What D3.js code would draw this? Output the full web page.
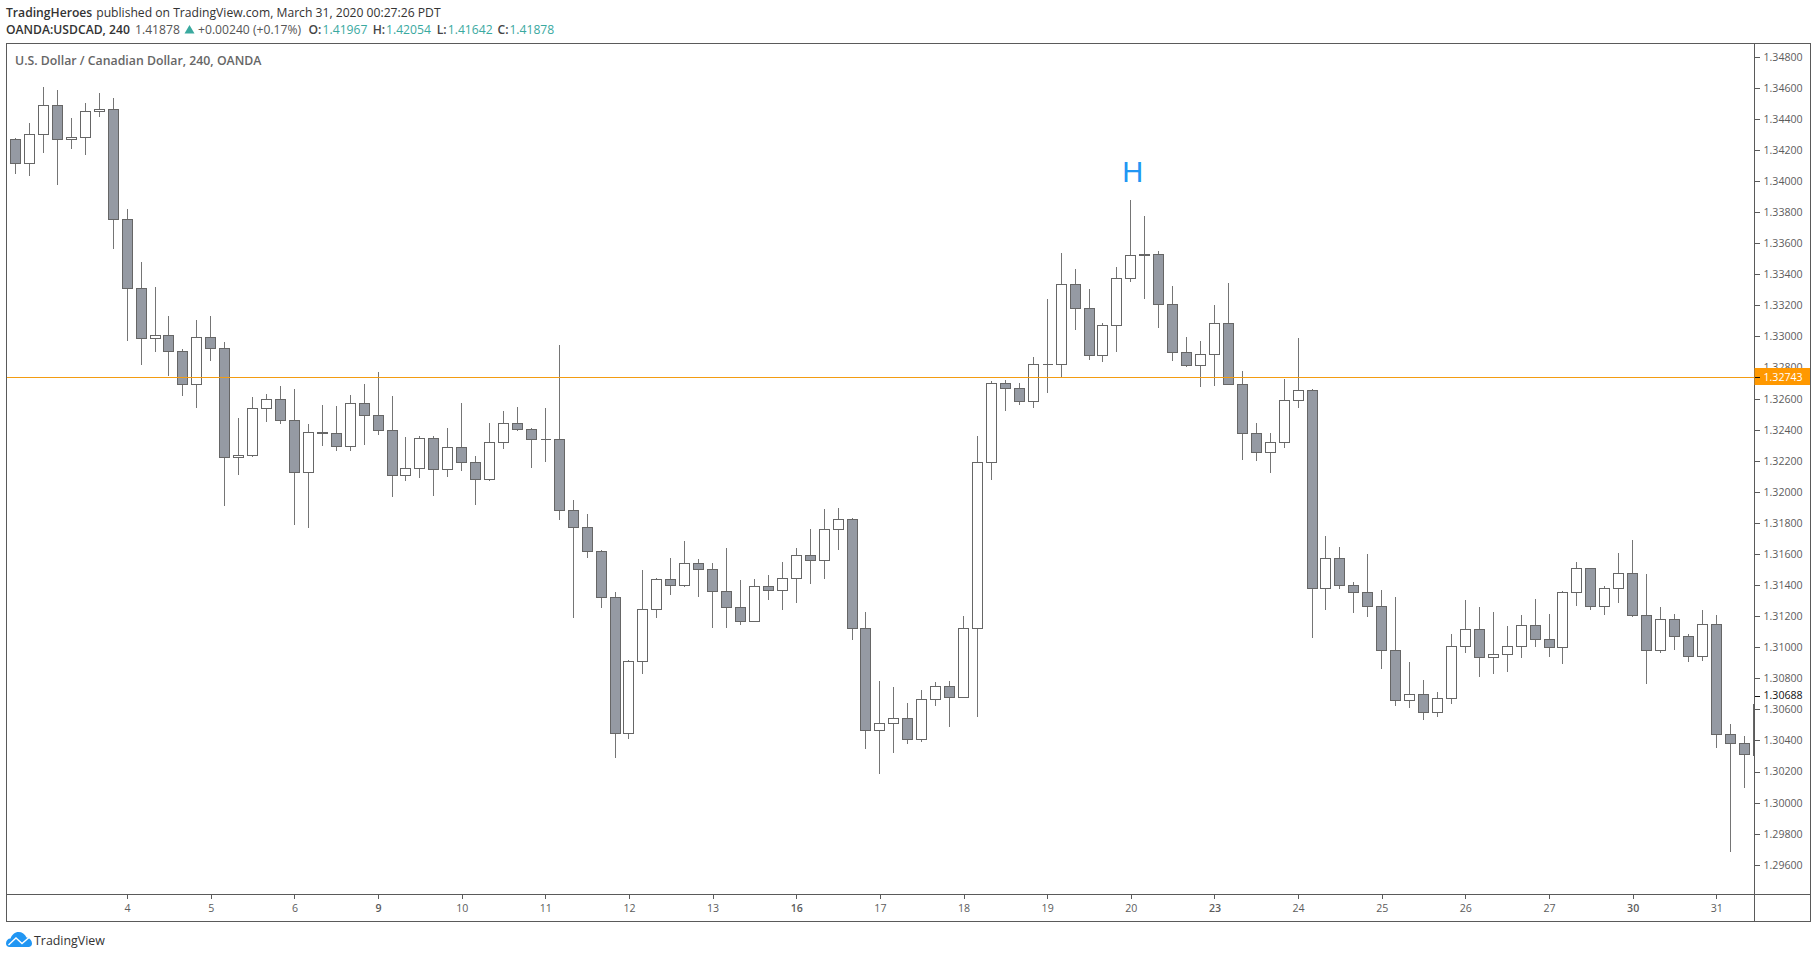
<!DOCTYPE html>
<html><head><meta charset="utf-8">
<script src="https://d3js.org/d3.v7.min.js"></script>
<style>
html,body{margin:0;padding:0;background:#fff;overflow:hidden}
svg{display:block}
text{font-family:"Open Sans",sans-serif}
</style></head><body>
<svg id="c" width="1817" height="958"></svg>
<script>
const opens=[1.34273,1.34118,1.34305,1.34491,1.34273,1.34285,1.34453,1.34466,1.33758,1.33314,
1.32992,1.33011,1.32908,1.32696,1.32998,1.32928,1.32226,1.32239,1.32542,1.32600,
1.32464,1.32130,1.32387,1.32383,1.32297,1.32574,1.32497,1.32400,1.32111,1.32156,
1.32349,1.32149,1.32291,1.32194,1.32085,1.32323,1.32445,1.32407,1.32342,1.32342,
1.31885,1.31776,1.31621,1.31325,1.30450,1.30914,1.31248,1.31441,1.31403,1.31544,
1.31506,1.31364,1.31261,1.31171,1.31396,1.31370,1.31448,1.31596,1.31563,1.31763,
1.31827,1.31126,1.30469,1.30515,1.30547,1.30412,1.30669,1.30753,1.30682,1.31126,
1.32194,1.32702,1.32670,1.32587,1.32825,1.32825,1.33340,1.33185,1.32883,1.33076,
1.33378,1.33530,1.33533,1.33211,1.32902,1.32818,1.32889,1.33089,1.32696,1.32381,
1.32258,1.32323,1.32593,1.32657,1.31383,1.31576,1.31403,1.31358,1.31267,1.30984,
1.30663,1.30701,1.30585,1.30675,1.31010,1.31119,1.30939,1.30959,1.31010,1.31145,
1.31055,1.31004,1.31358,1.31512,1.31267,1.31383,1.31480,1.31210,1.30984,1.31184,
1.31074,1.30947,1.31152,1.30444,1.30386,1.30639];
const closes=[1.34118,1.34305,1.34491,1.34273,1.34285,1.34453,1.34466,1.33758,1.33314,1.32992,
1.33011,1.32906,1.32696,1.32998,1.32928,1.32226,1.32239,1.32542,1.32600,1.32464,
1.32130,1.32387,1.32383,1.32297,1.32574,1.32497,1.32400,1.32111,1.32156,1.32349,
1.32149,1.32291,1.32194,1.32085,1.32323,1.32445,1.32407,1.32342,1.32340,1.31885,
1.31776,1.31621,1.31325,1.30450,1.30914,1.31248,1.31441,1.31403,1.31544,1.31506,
1.31364,1.31261,1.31171,1.31396,1.31370,1.31448,1.31596,1.31563,1.31763,1.31827,
1.31126,1.30469,1.30515,1.30547,1.30412,1.30669,1.30753,1.30682,1.31126,1.32194,
1.32702,1.32670,1.32587,1.32825,1.32826,1.33340,1.33185,1.32883,1.33076,1.33378,
1.33526,1.33525,1.33211,1.32902,1.32818,1.32889,1.33089,1.32696,1.32381,1.32258,
1.32323,1.32593,1.32657,1.31383,1.31576,1.31403,1.31358,1.31267,1.30984,1.30663,
1.30701,1.30585,1.30675,1.31010,1.31119,1.30939,1.30959,1.31010,1.31145,1.31055,
1.31004,1.31358,1.31512,1.31267,1.31383,1.31480,1.31210,1.30984,1.31184,1.31074,
1.30947,1.31152,1.30444,1.30386,1.30315,1.30311];
const highs=[1.34279,1.34377,1.34607,1.34590,1.34410,1.34506,1.34571,1.34538,1.33824,1.33483,
1.33322,1.33131,1.32923,1.33110,1.33131,1.32968,1.32479,1.32614,1.32634,1.32685,
1.32666,1.32441,1.32563,1.32556,1.32627,1.32698,1.32775,1.32621,1.32357,1.32361,
1.32361,1.32415,1.32576,1.32235,1.32447,1.32524,1.32550,1.32415,1.32544,1.32949,
1.31951,1.31861,1.31630,1.31359,1.30922,1.31501,1.31450,1.31578,1.31688,1.31572,
1.31546,1.31643,1.31437,1.31443,1.31469,1.31553,1.31643,1.31765,1.31894,1.31900,
1.31836,1.31231,1.30787,1.30748,1.30645,1.30729,1.30780,1.30787,1.31205,1.32363,
1.32717,1.32724,1.32704,1.32872,1.33245,1.33541,1.33438,1.33309,1.33090,1.33451,
1.33882,1.33779,1.33554,1.33329,1.33000,1.32975,1.33206,1.33348,1.32782,1.32447,
1.32383,1.32730,1.32994,1.32666,1.31720,1.31649,1.31424,1.31604,1.31372,1.31327,
1.30909,1.30793,1.30716,1.31089,1.31308,1.31263,1.31231,1.31141,1.31211,1.31314,
1.31218,1.31366,1.31553,1.31514,1.31398,1.31610,1.31694,1.31475,1.31263,1.31218,
1.31087,1.31244,1.31211,1.30510,1.30433,1.30639];
const lows=[1.34051,1.34038,1.34186,1.33983,1.34212,1.34174,1.34418,1.33569,1.32977,1.32822,
1.32906,1.32751,1.32623,1.32545,1.32848,1.31915,1.32114,1.32230,1.32455,1.32442,
1.31793,1.31773,1.32301,1.32269,1.32269,1.32307,1.32372,1.31973,1.32076,1.32095,
1.31979,1.32101,1.32140,1.31921,1.32076,1.32282,1.32397,1.32159,1.32198,1.31829,
1.31194,1.31580,1.31258,1.30293,1.30415,1.30834,1.31194,1.31342,1.31394,1.31329,
1.31130,1.31130,1.31149,1.31171,1.31310,1.31246,1.31291,1.31413,1.31445,1.31632,
1.31052,1.30351,1.30190,1.30325,1.30383,1.30396,1.30628,1.30493,1.30682,1.30557,
1.32082,1.32526,1.32565,1.32545,1.32642,1.32741,1.33047,1.32854,1.32841,1.32906,
1.33356,1.33247,1.33060,1.32848,1.32809,1.32681,1.32687,1.32696,1.32211,1.32204,
1.32127,1.32288,1.32545,1.31065,1.31246,1.31385,1.31226,1.31201,1.30866,1.30630,
1.30615,1.30540,1.30557,1.30643,1.30969,1.30814,1.30834,1.30847,1.30937,1.31007,
1.30943,1.30898,1.31271,1.31246,1.31213,1.31291,1.31201,1.30769,1.30969,1.30988,
1.30911,1.30917,1.30358,1.29688,1.30100,1.30311];
const dayLabels=["4","5","6","9","10","11","12","13","16","17","18","19","20","23","24","25","26","27","30","31"];
const boldDays=["9","16","23","30"];
const priceTicks=[1.348,1.346,1.344,1.342,1.34,1.338,1.336,1.334,1.332,1.33,1.328,1.326,1.324,1.322,1.32,1.318,1.316,1.314,1.312,1.31,1.308,1.306,1.304,1.302,1.3,1.298,1.296];
const linePrice=1.32743, lastPrice=1.30688;

const L=6.5,R=1810.5,T=43.5,B=921.5,AX=1754.5,AY=894.5;
const INK="#5a5a5a",BODY="#959aa3",EDGE="#666666",WICK="#757575";
const svg=d3.select("#c");
const x=d3.scaleLinear().domain([0,125]).range([15.62,15.62+125*13.94]);
const y=d3.scaleLinear().domain([1.296,1.348]).range([865.3,57.3]);
const sx=v=>Math.floor(x(v))+.5, sy=v=>Math.floor(y(v)+.2)+.5;

svg.append("defs").append("clipPath").attr("id","plot").append("rect")
  .attr("x",L).attr("y",T).attr("width",AX-L).attr("height",AY-T);

const candles=d3.range(opens.length).map(i=>({i,o:opens[i],c:closes[i],h:highs[i],l:lows[i]}));
const gc=svg.append("g").attr("clip-path","url(#plot)");
gc.selectAll("line.w").data(candles).join("line").attr("class","w")
  .attr("x1",d=>sx(d.i)).attr("x2",d=>sx(d.i))
  .attr("y1",d=>sy(d.h)-.5).attr("y2",d=>sy(d.l)+.5)
  .attr("stroke",WICK).attr("stroke-width",1).attr("shape-rendering","crispEdges");
gc.selectAll("path.b").data(candles).join("path").attr("class","b")
  .attr("d",d=>{const p=d3.path(),a=sx(d.i)-5,t=sy(Math.max(d.o,d.c)),b=sy(Math.min(d.o,d.c));
    p.moveTo(a,t);p.lineTo(a+10,t);p.lineTo(a+10,b);p.lineTo(a,b);p.closePath();return p.toString();})
  .attr("fill",d=>d.c>=d.o?"#ffffff":BODY).attr("stroke",EDGE).attr("stroke-width",1.1).attr("shape-rendering","crispEdges");

svg.append("line").attr("x1",L).attr("x2",AX).attr("y1",sy(linePrice)).attr("y2",sy(linePrice))
  .attr("stroke","#f39c12").attr("stroke-width",1).attr("shape-rendering","crispEdges");

// H annotation
svg.append("text").attr("x",x(80)+1.8).attr("y",y(1.33996)).attr("text-anchor","middle")
  .style("font-family","'Liberation Sans'").attr("font-size",29).attr("fill","#2196f3").text("H");

// axes
const fs=10.6;
const ya=svg.append("g").attr("transform",`translate(${AX},0)`)
  .call(d3.axisRight(y).tickValues(priceTicks).tickSize(5).tickPadding(4).tickFormat(d3.format(".5f")).offset(0));
ya.select(".domain").remove();
ya.selectAll("line").attr("stroke",INK).attr("shape-rendering","crispEdges");
ya.selectAll("text").attr("fill","#5c5c5c").attr("font-size",fs).style("font-family","'Open Sans'");

const xIdx=dayLabels.map((_,k)=>8+6*k);
const xa=svg.append("g").attr("transform",`translate(0,${AY})`)
  .call(d3.axisBottom(x).tickValues(xIdx).tickSize(4).tickPadding(6).tickFormat((d,k)=>dayLabels[k]));
xa.select(".domain").remove();
xa.selectAll("line").attr("stroke",INK).attr("shape-rendering","crispEdges");
xa.selectAll("text").attr("fill","#5c5c5c").attr("font-size",fs).style("font-family","'Open Sans'")
  .attr("font-weight",(d,k)=>boldDays.includes(dayLabels[k])?600:400);

// frame
const fr=svg.append("g").attr("stroke",INK).attr("fill","none").attr("shape-rendering","crispEdges");
fr.append("rect").attr("x",L).attr("y",T).attr("width",R-L).attr("height",B-T);
fr.append("line").attr("x1",AX).attr("x2",AX).attr("y1",T).attr("y2",B);
fr.append("line").attr("x1",L).attr("x2",R).attr("y1",AY).attr("y2",AY);

// price labels
const ly=y(linePrice);
svg.append("rect").attr("x",AX).attr("y",Math.round(ly)-9).attr("width",R-AX-.5).attr("height",17).attr("fill","#ff9800");
svg.append("line").attr("x1",AX).attr("x2",AX+5).attr("y1",sy(linePrice)).attr("y2",sy(linePrice)).attr("stroke","#111").attr("shape-rendering","crispEdges");
svg.append("text").attr("x",AX+9).attr("y",ly+.5).attr("dy",".32em").attr("fill","#fff").attr("font-size",fs).text(d3.format(".5f")(linePrice));
svg.append("line").attr("x1",AX).attr("x2",AX+5).attr("y1",sy(lastPrice)).attr("y2",sy(lastPrice)).attr("stroke","#111").attr("shape-rendering","crispEdges");
svg.append("text").attr("x",AX+9).attr("y",y(lastPrice)-.3).attr("dy",".32em").attr("fill","#111").attr("font-size",fs).text(d3.format(".5f")(lastPrice));

// header
const hs=12.15;
const t1=svg.append("text").attr("x",6).attr("y",17).attr("font-size",hs).attr("fill","#333");
t1.append("tspan").attr("font-weight",600).text("TradingHeroes");
t1.append("tspan").attr("dx",4).text("published on TradingView.com, March 31, 2020 00:27:26 PDT");
const TEAL="#3aa99f";
[["OANDA:USDCAD, 240",6,600,"#333"],["1.41878",135,400,"#555"],["+0.00240 (+0.17%)",198,400,"#555"],
 ["O:",308.5,600,"#444"],["1.41967",322.6,400,TEAL],["H:",372.7,600,"#444"],["1.42054",386,400,TEAL],
 ["L:",436.7,600,"#444"],["1.41642",447.8,400,TEAL],["C:",497.5,600,"#444"],["1.41878",509.4,400,TEAL]]
 .forEach(s=>svg.append("text").attr("x",s[1]).attr("y",34).attr("font-size",hs).attr("font-weight",s[2]).attr("fill",s[3]).text(s[0]));
svg.append("path").attr("d","M184.5 33.5L189.5 25L194.5 33.5Z").attr("fill",TEAL);

svg.append("text").attr("x",15).attr("y",65).attr("font-size",12.3).attr("font-weight",600).attr("fill","#666").text("U.S. Dollar / Canadian Dollar, 240, OANDA");

// logo
const lg=svg.append("g");
lg.append("path").attr("fill","#2196f3").attr("d","M6 943.5C6 940.5 8 938.5 10.5 938.5C12 934.5 15 932 18.5 932C22 932 25 934 26.5 937.5C29.5 938 32 940.5 32 943.5C32 945.8 30.5 947 28.5 947L9.5 947C7.5 947 6 945.8 6 943.5Z");
lg.append("path").attr("fill","none").attr("stroke","#fff").attr("stroke-width",1.4).attr("d","M8.5 945L16 938L22 943.5L29 937.5");
svg.append("text").attr("x",34).attr("y",944.5).attr("font-size",12.4).attr("fill","#333").text("TradingView");
</script>
</body></html>
